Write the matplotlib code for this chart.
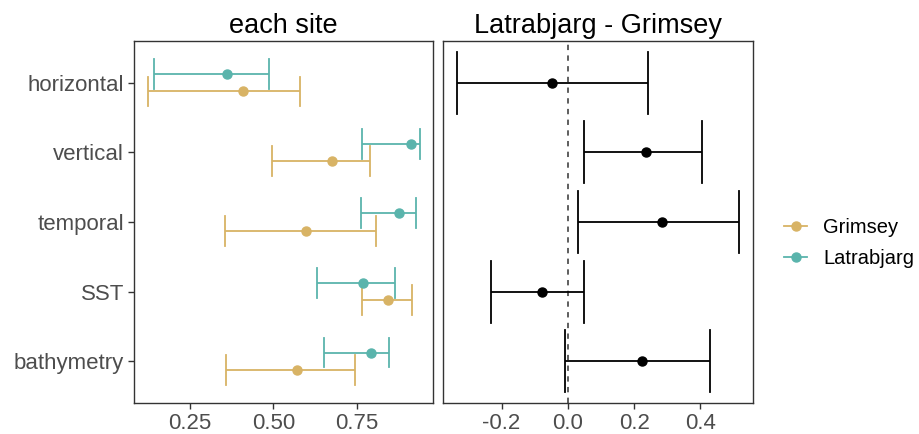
import matplotlib.pyplot as plt
import numpy as np
from matplotlib.lines import Line2D

plt.rcParams['font.family'] = ['Liberation Sans', 'DejaVu Sans']

variables = ['horizontal', 'vertical', 'temporal', 'SST', 'bathymetry']

# each site: estimate, lower, upper
grim_est = [0.408, 0.677, 0.598, 0.845, 0.570]
grim_lo = [0.122, 0.496, 0.355, 0.767, 0.358]
grim_hi = [0.580, 0.789, 0.807, 0.915, 0.745]

latr_est = [0.360, 0.912, 0.878, 0.770, 0.793]
latr_lo = [0.142, 0.765, 0.763, 0.630, 0.652]
latr_hi = [0.486, 0.939, 0.928, 0.865, 0.848]

# Latrabjarg - Grimsey difference
diff_est = [-0.047, 0.236, 0.284, -0.077, 0.225]
diff_lo = [-0.335, 0.050, 0.030, -0.232, -0.008]
diff_hi = [0.243, 0.405, 0.517, 0.049, 0.428]

col_grim = '#D8B365'
col_latr = '#5AB4AC'
grey_txt = '#4D4D4D'

fig = plt.figure(figsize=(9.2, 4.34), dpi=100)
ax1 = fig.add_axes([134 / 920, 31 / 434, 299.3 / 920, 362 / 434])
ax2 = fig.add_axes([442.7 / 920, 31 / 434, 310.6 / 920, 362 / 434])

y = np.arange(1, len(variables) + 1)


def errbars(ax, ypos, est, lo, hi, color, cap):
    est, lo, hi = np.array(est), np.array(lo), np.array(hi)
    ax.errorbar(est, ypos, xerr=[est - lo, hi - est], fmt='o', color=color,
                ms=6.5, elinewidth=1.3, capsize=0, zorder=3)
    for yy, l, h in zip(ypos, lo, hi):
        ax.plot([l, l], [yy - cap, yy + cap], color=color, lw=1.3, zorder=3)
        ax.plot([h, h], [yy - cap, yy + cap], color=color, lw=1.3, zorder=3)


errbars(ax1, y + 0.125, grim_est, grim_lo, grim_hi, col_grim, 0.215)
errbars(ax1, y - 0.125, latr_est, latr_lo, latr_hi, col_latr, 0.215)
errbars(ax2, y, diff_est, diff_lo, diff_hi, 'black', 0.445)
ax2.axvline(0, color='#333333', lw=1.1, ls=(0, (3.5, 3.5)), zorder=1)


def expand(lo, hi):
    r = hi - lo
    return lo - 0.05 * r, hi + 0.05 * r


ax1.set_xlim(*expand(min(grim_lo + latr_lo), max(grim_hi + latr_hi)))
ax2.set_xlim(*expand(min(diff_lo), max(diff_hi)))

for ax in (ax1, ax2):
    ax.set_ylim(5.6, 0.4)
    for s in ax.spines.values():
        s.set_color('#333333')
        s.set_linewidth(1.0)
    ax.tick_params(axis='both', length=4, width=1.0, color='#333333',
                   labelsize=16, labelcolor=grey_txt, pad=3)

ax1.set_xticks([0.25, 0.50, 0.75])
ax1.set_xticklabels(['0.25', '0.50', '0.75'])
ax1.set_yticks(y)
ax1.set_yticklabels(variables)
ax2.set_xticks([-0.2, 0.0, 0.2, 0.4])
ax2.set_xticklabels(['-0.2', '0.0', '0.2', '0.4'])
ax2.set_yticks([])

ax1.set_title('each site', fontsize=19.5, pad=6)
ax2.set_title('Latrabjarg - Grimsey', fontsize=19.5, pad=6)

handles = [Line2D([], [], color=col_grim, marker='o', ms=6.5, lw=1.3),
           Line2D([], [], color=col_latr, marker='o', ms=6.5, lw=1.3)]
fig.legend(handles, ['Grimsey', 'Latrabjarg'], loc='center left',
           bbox_to_anchor=(766 / 920, 1 - 243 / 434), frameon=False,
           fontsize=14.5, handlelength=1.15, handletextpad=0.8, labelspacing=0.6)

fig.savefig('out.png', dpi=100)
